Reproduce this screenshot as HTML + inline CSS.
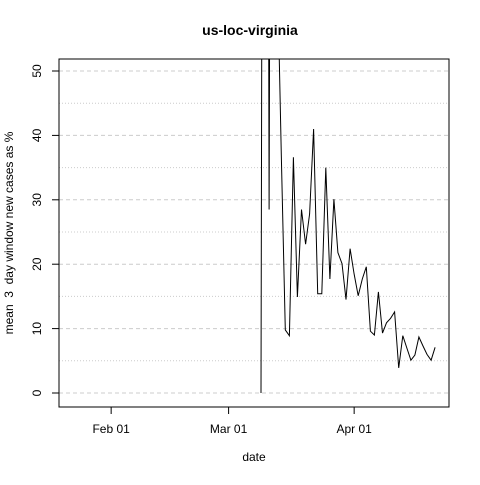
<!DOCTYPE html>
<html><head><meta charset="utf-8"><style>
html,body{margin:0;padding:0;background:#fff}
svg text{font-family:"Liberation Sans",sans-serif;fill:#000}
</style></head><body>
<svg id="chart" width="480" height="480" xmlns="http://www.w3.org/2000/svg">
<defs><clipPath id="clip"><rect x="59" y="59" width="390" height="348"/></clipPath></defs>
<text x="250" y="35" font-size="14" font-weight="bold" text-anchor="middle">us-loc-virginia</text>
<text x="254" y="461" font-size="12" text-anchor="middle">date</text>
<text transform="translate(13,233) rotate(-90)" font-size="12" text-anchor="middle" style="white-space:pre">mean  3  day window new cases as %</text>
<g id="grid"></g>
<g id="yaxis"></g>
<g id="xaxis"></g>
<g clip-path="url(#clip)"><polyline id="line" fill="none" stroke="#000" stroke-width="1"/></g>
<rect x="59" y="59" width="390" height="348" fill="none" stroke="#000"/>
</svg>
<script>
const startDay = 8; // days after Mar 01
const values = [0,300,28.5,250,67,37,9.8,8.9,36.6,14.9,28.5,23.1,27.8,41,15.4,15.4,35,17.7,30.1,21.8,20.1,14.5,22.4,18.5,15.1,17.7,19.6,9.6,9.0,15.7,9.3,10.9,11.6,12.6,3.9,8.9,7.0,5.1,5.9,8.7,7.3,6.0,5.1,7.1];
const yTicks = [0,10,20,30,40,50];
const xTickLabels = ["Feb 01","Mar 01","Apr 01"];
const xTickDays = [-29,0,31];
const NS="http://www.w3.org/2000/svg";
const X = d => 228.6 + 4.05*d;
const Y = v => 393 - 6.44*v;
const grid=document.getElementById('grid'), ya=document.getElementById('yaxis'), xa=document.getElementById('xaxis');
function mk(tag,attrs,parent){const e=document.createElementNS(NS,tag);for(const k in attrs)e.setAttribute(k,attrs[k]);parent.appendChild(e);return e;}
for(let v=0;v<=50;v+=5){
  const g=mk('line',{x1:59,x2:449,y1:Y(v),y2:Y(v),stroke:'#ccc','stroke-dasharray':v%10===0?'4,3':'1,2'},grid);
  
  
}
yTicks.forEach(v=>{
  const t=mk('line',{x1:52,x2:59,y1:Y(v),y2:Y(v),stroke:'#000'},ya);
  
  
  const l=mk('text',{transform:`translate(41,${Y(v)}) rotate(-90)`,'font-size':12,'text-anchor':'middle'},ya);
  l.textContent=v;
  
  
});
xTickDays.forEach((d,i)=>{
  const t=mk('line',{x1:X(d),x2:X(d),y1:407,y2:414,stroke:'#000'},xa);
  
  
  const l=mk('text',{x:X(d),y:433,'font-size':12,'text-anchor':'middle'},xa);
  l.textContent=xTickLabels[i];
  
  
});
document.getElementById('line').setAttribute('points',values.map((v,i)=>X(startDay+i).toFixed(1)+','+Y(v).toFixed(1)).join(' '));
</script>
</body></html>
